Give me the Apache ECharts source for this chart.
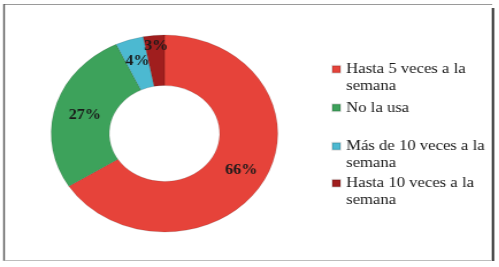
<!DOCTYPE html>
<html>
<head>
<meta charset="utf-8">
<script src="https://cdn.jsdelivr.net/npm/echarts@6/dist/echarts.min.js"></script>
<style>
html,body{margin:0;padding:0;background:#fff;overflow:hidden;}
#wrap{width:499px;height:267px;position:relative;overflow:hidden;}
#chart{width:434px;height:267px;transform:scaleX(1.15);transform-origin:0 0;}
</style>
</head>
<body>
<div id="wrap"><div id="chart"></div></div>
<script>
const categories = ['Hasta 5 veces a la semana', 'No la usa', 'Más de 10 veces a la semana', 'Hasta 10 veces a la semana'];
const values = [66, 27, 4, 3];
const sliceColors = ['#E6433A', '#3DA25B', '#4CB9D1', '#A01E1E'];
const legendTops = [44.5, 99.5, 121.5, 158.5];

const chart = echarts.init(document.getElementById('chart'), null, {renderer: 'canvas'});
const serif = 'Liberation Serif';

const legends = categories.map(function (name, i) {
  const twoLine = name.indexOf(' semana') >= 0;
  return {
    data: [name],
    left: 288,
    top: legendTops[i],
    padding: 0,
    orient: 'vertical',
    icon: 'rect',
    itemWidth: 7,
    itemHeight: 7,
    selectedMode: false,
    formatter: function (n) {
      return twoLine ? '\n' + n.replace(' semana', '\nsemana') : n;
    },
    textStyle: {
      fontFamily: serif,
      fontSize: 14.5,
      color: '#1a1a1a',
      lineHeight: 16.5
    }
  };
});

chart.setOption({
  animation: false,
  color: sliceColors,
  legend: legends,
  graphic: [
    {type: 'line', shape: {x1: 3.5, y1: 4.5, x2: 428, y2: 4.5}, style: {stroke: '#9a9a9a', lineWidth: 1}},
    {type: 'line', shape: {x1: 3.5, y1: 4, x2: 3.5, y2: 261}, style: {stroke: '#555', lineWidth: 1.4}},
    {type: 'line', shape: {x1: 428.7, y1: 8, x2: 428.7, y2: 261}, style: {stroke: '#2a2a2a', lineWidth: 2}},
    {type: 'line', shape: {x1: 3.5, y1: 260.5, x2: 428, y2: 260.5}, style: {stroke: '#bdbdbd', lineWidth: 1}}
  ],
  series: [{
    type: 'pie',
    center: [143, 133.5],
    radius: [48, 98.5],
    startAngle: 90,
    clockwise: true,
    avoidLabelOverlap: false,
    itemStyle: {borderColor: 'rgba(0,0,0,0.12)', borderWidth: 1},
    label: {
      show: true,
      position: 'inside',
      formatter: function (p) { return p.value + '%'; },
      fontFamily: serif,
      fontWeight: 'bold',
      fontSize: 14,
      color: '#1a1a1a'
    },
    labelLayout: function (params) {
      if (params.dataIndex === 3) { return {dy: -11}; }
      if (params.dataIndex === 1) { return {dx: 4, dy: 3}; }
      return {};
    },
    labelLine: {show: false},
    emphasis: {disabled: true},
    data: categories.map(function (c, i) { return {name: c, value: values[i]}; })
  }]
});
</script>
</body>
</html>
